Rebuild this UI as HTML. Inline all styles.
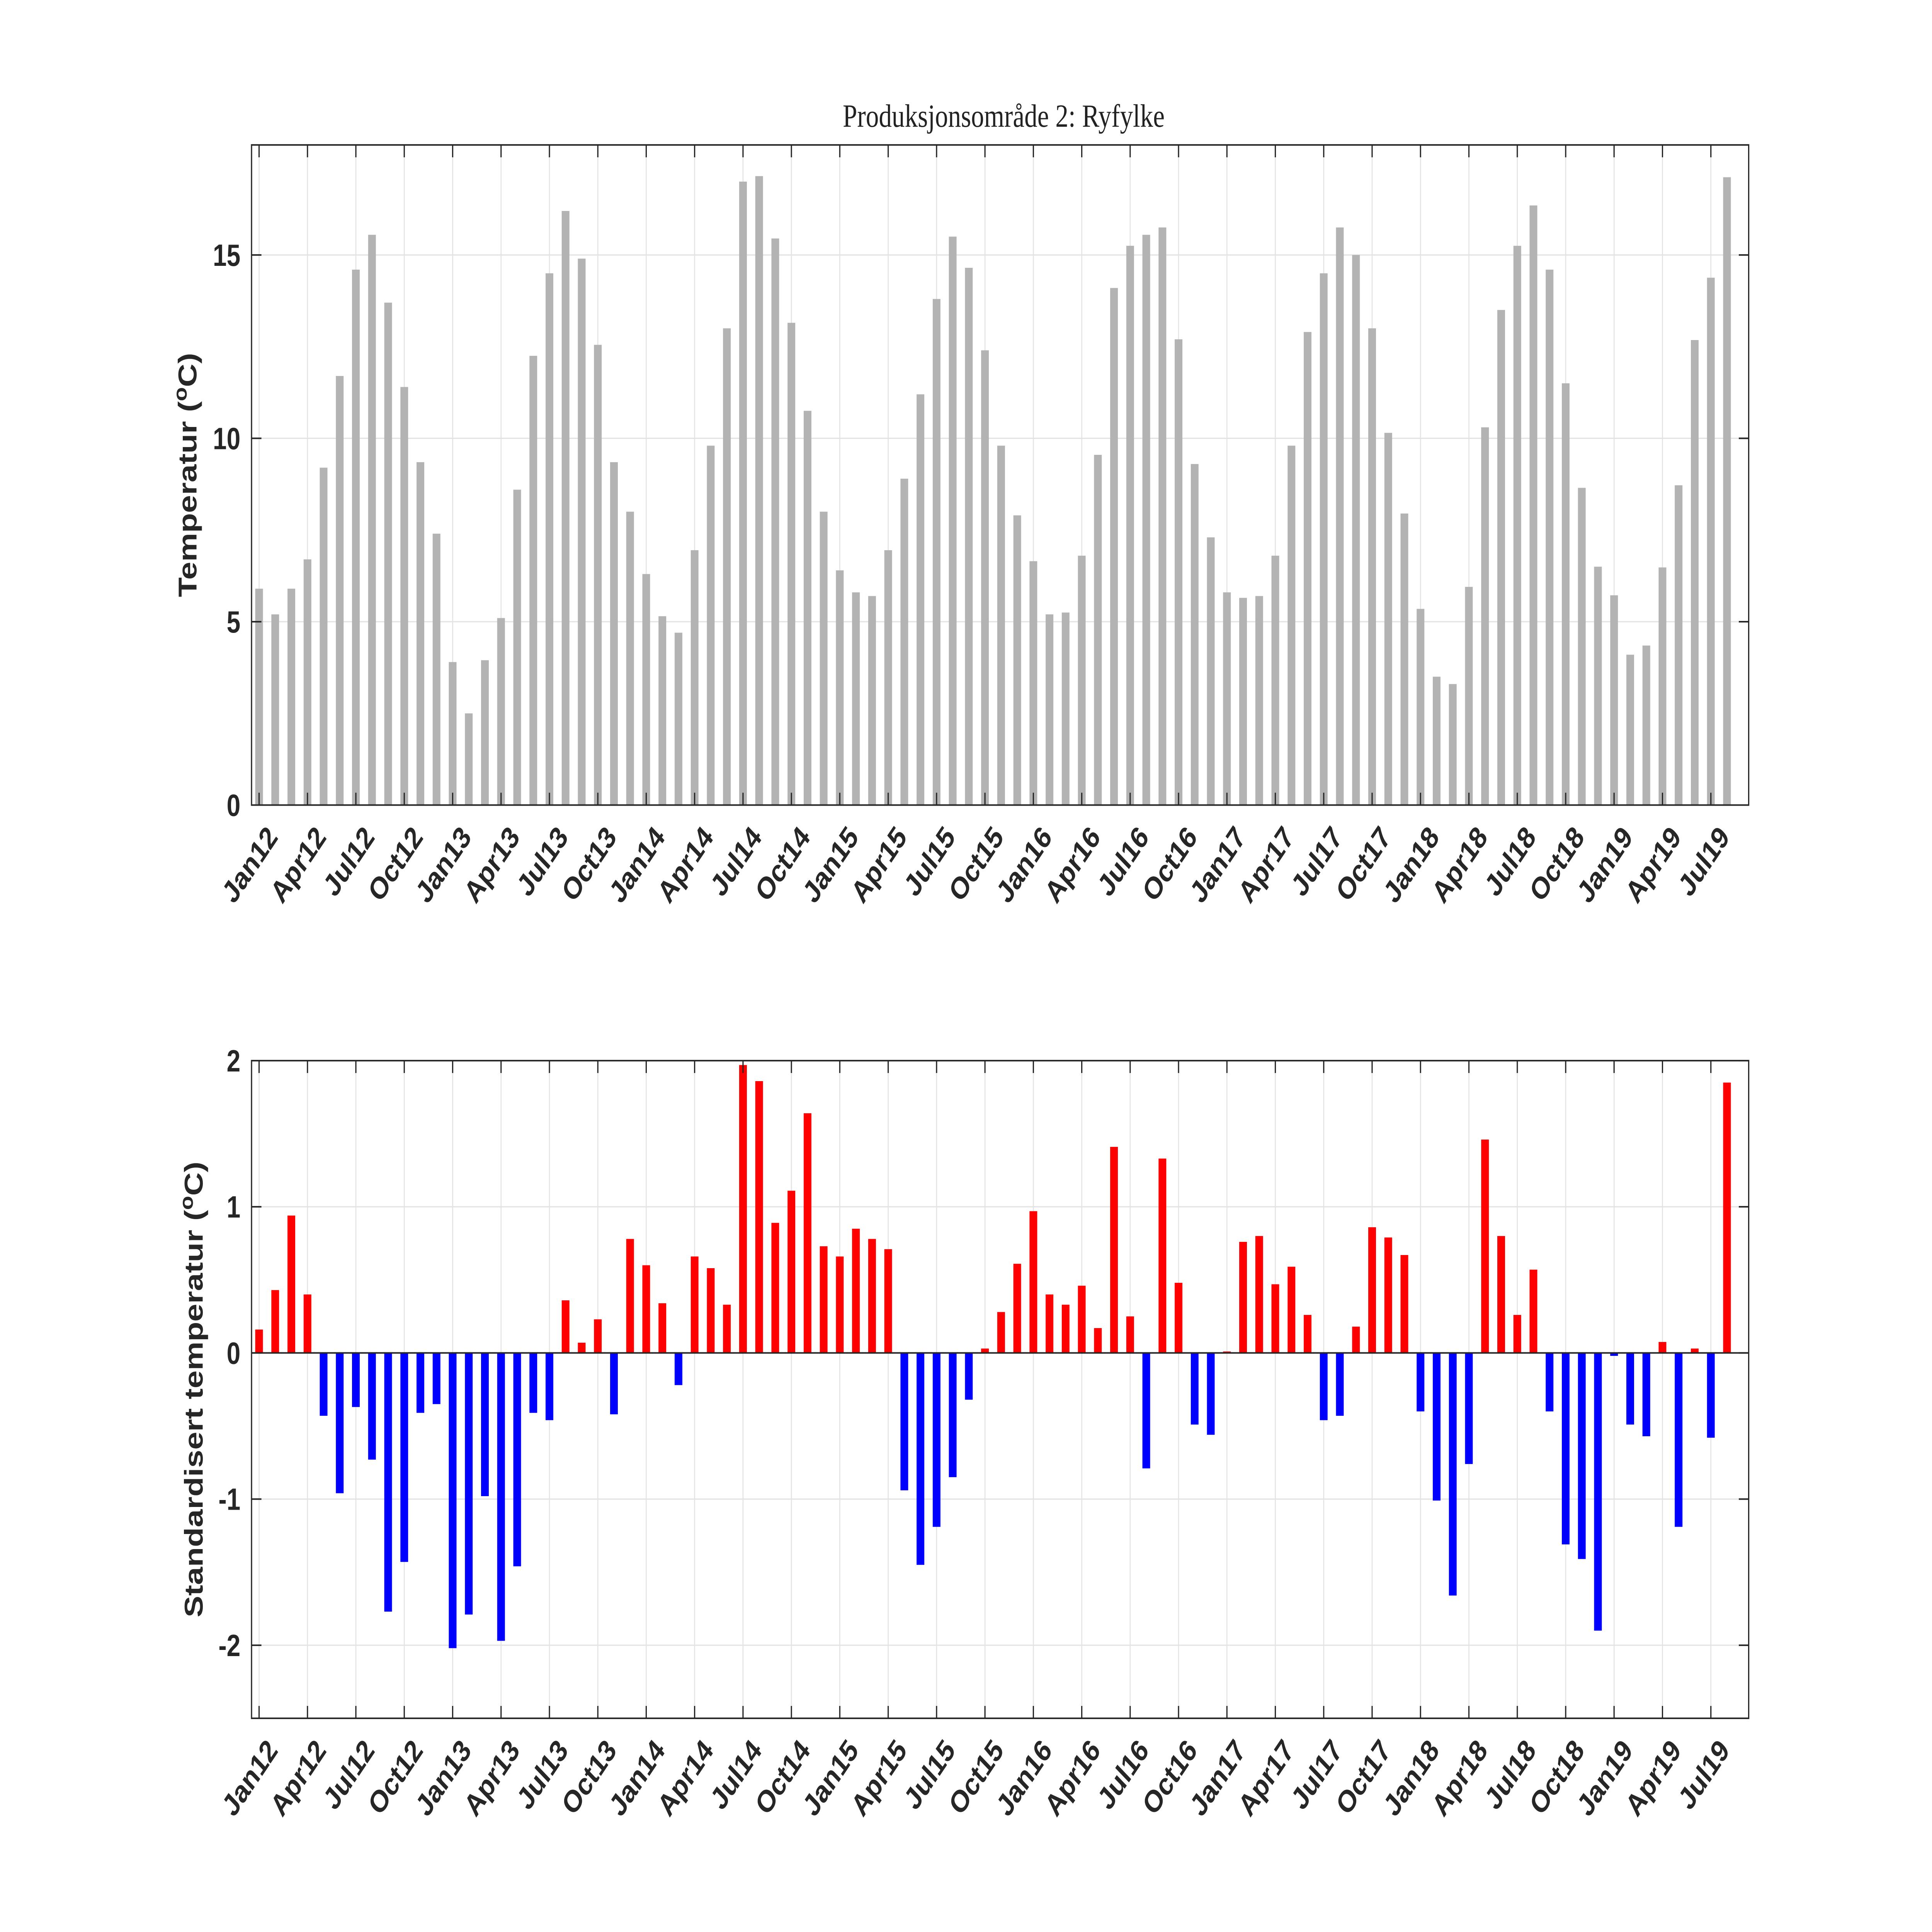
<!DOCTYPE html>
<html><head><meta charset="utf-8">
<style>
html,body{margin:0;padding:0;background:#fff;width:100%;height:100%;overflow:hidden;}
svg{display:block;width:100vw;height:100vh;}
text{font-family:"Liberation Sans",Arial,sans-serif;}
</style></head>
<body>
<svg id="chart" xmlns="http://www.w3.org/2000/svg" viewBox="0 0 1563 1250.3" preserveAspectRatio="none">
<rect x="0" y="0" width="1563" height="1251" fill="#fff"/>
<text x="812" y="82" text-anchor="middle" style="font-family:'Liberation Serif',serif" font-size="21" fill="#222">Produksjonsområde 2: Ryfylke</text>
<g id="top"></g>
<g id="bot"></g>
</svg>
<script>
const months = ["Jan","Feb","Mar","Apr","May","Jun","Jul","Aug","Sep","Oct","Nov","Dec"];
const tempValues = [5.9,5.2,5.9,6.7,9.2,11.7,14.6,15.55,13.7,11.4,9.35,7.4,
3.9,2.5,3.95,5.1,8.6,12.25,14.5,16.2,14.9,12.55,9.35,8.0,
6.3,5.15,4.7,6.95,9.8,13.0,17.0,17.15,15.45,13.15,10.75,8.0,
6.4,5.8,5.7,6.95,8.9,11.2,13.8,15.5,14.65,12.4,9.8,7.9,
6.65,5.2,5.25,6.8,9.55,14.1,15.25,15.55,15.75,12.7,9.3,7.3,
5.8,5.65,5.7,6.8,9.8,12.9,14.5,15.75,15.0,13.0,10.15,7.95,
5.35,3.5,3.3,5.95,10.3,13.5,15.25,16.35,14.6,11.5,8.65,6.5,
5.72,4.1,4.35,6.48,8.72,12.68,14.38,17.12];
const stdValues = [0.16,0.43,0.94,0.40,-0.43,-0.96,-0.37,-0.73,-1.77,-1.43,-0.41,-0.35,
-2.02,-1.79,-0.98,-1.97,-1.46,-0.41,-0.46,0.36,0.07,0.23,-0.42,0.78,
0.60,0.34,-0.22,0.66,0.58,0.33,1.97,1.86,0.89,1.11,1.64,0.73,
0.66,0.85,0.78,0.71,-0.94,-1.45,-1.19,-0.85,-0.32,0.03,0.28,0.61,
0.97,0.40,0.33,0.46,0.17,1.41,0.25,-0.79,1.33,0.48,-0.49,-0.56,
0.01,0.76,0.80,0.47,0.59,0.26,-0.46,-0.43,0.18,0.86,0.79,0.67,
-0.40,-1.01,-1.66,-0.76,1.46,0.80,0.26,0.57,-0.40,-1.31,-1.41,-1.90,
-0.02,-0.49,-0.57,0.075,-1.19,0.03,-0.58,1.85];
const tempTicks = [0,5,10,15];
const stdTicks = [-2,-1,0,1,2];
const startYear = 12;

const NS = "http://www.w3.org/2000/svg";
const X0 = 203.5, X1 = 1414.7, STEP = 13.05, FIRST = 209.6, BW = 6.25;
function xPos(i){ return FIRST + i*STEP; }
function mk(tag, attrs, parent){
  const e = document.createElementNS(NS, tag);
  for (const k in attrs) e.setAttribute(k, attrs[k]);
  parent.appendChild(e); return e;
}
function panel(g, yTop, yBot, yMin, yMax, ticks, values, colorFn, ylabel, ylabelX){
  const yS = v => yBot - (v - yMin) / (yMax - yMin) * (yBot - yTop);
  for (let i = 0; i < values.length; i += 3) {
    if (xPos(i) > X1) break;
    const gl = mk("line", {x1:xPos(i), x2:xPos(i), y1:yTop, y2:yBot, stroke:"#e3e3e3", "stroke-width":0.8}, g);
    
    
  }
  ticks.forEach(t => {
    const gl = mk("line", {x1:X0, x2:X1, y1:yS(t), y2:yS(t), stroke:"#e3e3e3", "stroke-width":0.8}, g);
    
    
  });
  const base = yS(Math.max(yMin, 0));
  values.forEach((v, i) => {
    const y = yS(v);
    const r = mk("rect", {x:xPos(i)-BW/2, y:Math.min(y, base), width:BW, height:Math.max(Math.abs(base-y),0.3), fill:colorFn(v)}, g);
    
    
  });
  if (yMin < 0) {
    const zl = mk("line", {x1:X0, x2:X1, y1:base, y2:base, stroke:"#262626", "stroke-width":1}, g);
    
    
  }
  const bx = mk("rect", {x:X0, y:yTop, width:X1-X0, height:yBot-yTop, fill:"none", stroke:"#262626", "stroke-width":1}, g);
  
  
  for (let i = 0; i < values.length; i += 3) {
    const x = xPos(i);
    if (x > X1) break;
    const t1 = mk("line", {x1:x, x2:x, y1:yBot, y2:yBot-8, stroke:"#262626", "stroke-width":1}, g);
    
    
    const t2 = mk("line", {x1:x, x2:x, y1:yTop, y2:yTop+8, stroke:"#262626", "stroke-width":1}, g);
    
    
    const tx = mk("text", {x:x+5, y:yBot+12, "text-anchor":"end", "font-size":20, "font-weight":"bold", fill:"#262626",
      transform:`rotate(-50 ${x+5} ${yBot+12})`, "dominant-baseline":"hanging"}, g);
    tx.textContent = months[i%12] + (startYear + Math.floor(i/12));
    
    
  }
  ticks.forEach(t => {
    const y = yS(t);
    const a = mk("line", {x1:X0, x2:X0+8, y1:y, y2:y, stroke:"#262626", "stroke-width":1}, g);
    
    
    const b = mk("line", {x1:X1-8, x2:X1, y1:y, y2:y, stroke:"#262626", "stroke-width":1}, g);
    
    
    const tx = mk("text", {x:X0-9, y:y+7, "text-anchor":"end", "font-size":20, "font-weight":"bold", fill:"#262626"}, g);
    tx.textContent = String(t);
    
    
  });
  const cy = (yTop + yBot) / 2;
  const yl = mk("text", {x:ylabelX, y:cy, "text-anchor":"middle", "font-size":21, "font-weight":"bold", fill:"#262626",
    transform:`rotate(-90 ${ylabelX} ${cy})`}, g);
  yl.innerHTML = ylabel + ' (<tspan font-size="15" dy="-8">o</tspan><tspan dy="8">C)</tspan>';
  
  
}
panel(document.getElementById("top"), 93.8, 521, 0, 18, tempTicks, tempValues, v => "#b3b3b3", "Temperatur", 159);
panel(document.getElementById("bot"), 686.4, 1112, -2.5, 2, stdTicks, stdValues, v => v >= 0 ? "#ff0000" : "#0000ff", "Standardisert temperatur", 164);
</script>
</body></html>
